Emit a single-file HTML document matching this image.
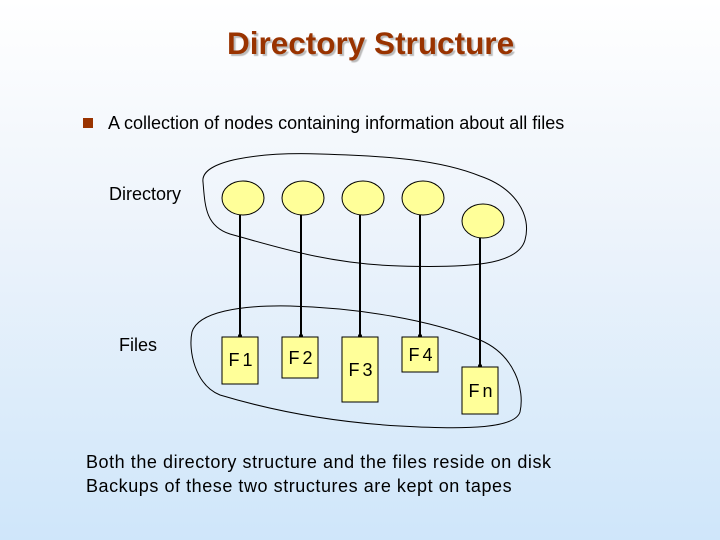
<!DOCTYPE html>
<html><head><meta charset="utf-8"><style>
body{margin:0;width:720px;height:540px;overflow:hidden;background:linear-gradient(#ffffff 0%,#eef4fb 40%,#cfe6fa 100%);font-family:"Liberation Sans",sans-serif;position:relative}
.t{position:absolute;white-space:nowrap}
</style></head><body>
<div class="t" style="left:227px;top:25px;font-size:31.5px;font-weight:bold;color:#993300;text-shadow:2px 2px 1px #bbb">Directory Structure</div>
<div class="t" style="left:83px;top:118px;width:10px;height:10px;background:#993300"></div>
<div class="t" style="left:108px;top:113px;font-size:18px">A collection of nodes containing information about all files</div>
<div class="t" style="left:109px;top:184px;font-size:18px">Directory</div>
<div class="t" style="left:119px;top:335px;font-size:18px">Files</div>
<svg width="720" height="540" style="position:absolute;left:0;top:0">
<g fill="none" stroke="#000" stroke-width="1">
<path d="M203,182 C200,160 260,152 320,154 C390,156 440,160 480,176 C515,188 532,215 525,240 C518,265 470,268 400,266 C330,264 280,248 230,234 C205,226 205,205 203,182 Z"/>
<path d="M192,332 C198,312 240,305 290,306 C360,308 430,320 480,340 C515,355 525,390 520,412 C515,428 470,430 400,426 C330,422 270,410 220,395 C195,385 188,350 192,332 Z"/>
</g>
<g fill="#ffff99" stroke="#000">
<ellipse cx="243" cy="198" rx="21" ry="17"/><ellipse cx="303" cy="198" rx="21" ry="17"/><ellipse cx="363" cy="198" rx="21" ry="17"/><ellipse cx="423" cy="198" rx="21" ry="17"/><ellipse cx="483" cy="221" rx="21" ry="17"/>
</g>
<g stroke="#000" stroke-width="2">
<line x1="240" y1="215" x2="240" y2="336"/><line x1="301" y1="215" x2="301" y2="336"/><line x1="360" y1="215" x2="360" y2="336"/><line x1="420" y1="215" x2="420" y2="336"/><line x1="480" y1="238" x2="480" y2="366"/>
</g>
<g fill="#000"><circle cx="240" cy="336" r="2"/><circle cx="301" cy="336" r="2"/><circle cx="360" cy="336" r="2"/><circle cx="420" cy="336" r="2"/><circle cx="480" cy="366" r="2"/></g>
<g fill="#ffff99" stroke="#000">
<rect x="222" y="337" width="36" height="47"/><rect x="282" y="337" width="36" height="41"/><rect x="342" y="337" width="36" height="65"/><rect x="402" y="337" width="36" height="35"/><rect x="462" y="367" width="36" height="47"/>
</g>
<g font-family="Liberation Sans,sans-serif" font-size="18" fill="#000" text-anchor="middle" letter-spacing="3">
<text x="242" y="366">F1</text><text x="302" y="364">F2</text><text x="362" y="376">F3</text><text x="422" y="361">F4</text><text x="482" y="397">Fn</text>
</g>
</svg>
<div class="t" style="left:86px;top:450px;font-size:18px;letter-spacing:0.55px;line-height:24px">Both the directory structure and the files reside on disk<br>Backups of these two structures are kept on tapes</div>
</body></html>
